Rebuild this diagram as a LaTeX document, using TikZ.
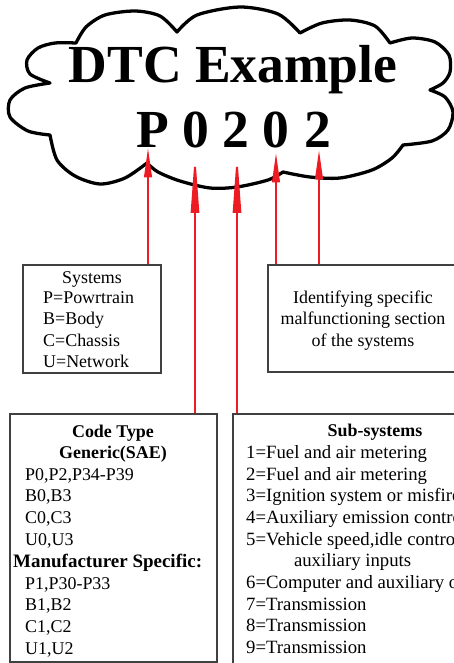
\documentclass[tikz,border=0pt]{standalone}
\usepackage{fontspec}
\setmainfont{Liberation Serif}
\usetikzlibrary{calc, fit, arrows.meta}

\definecolor{codered}{RGB}{237,28,36}
\definecolor{boxgray}{RGB}{64,64,64}

\tikzset{
    cloudline/.style={line width=2.8pt, line join=round},
    pointer/.style={draw=codered, line width=1.7pt, -{Triangle[length=25pt, width=6.5pt]}},
    longpointer/.style={draw=codered, line width=1.7pt, -{Triangle[length=52pt, width=7pt]}},
    infobox/.style={draw=boxgray, line width=0.9pt, inner sep=0pt},
    bigtext/.style={font=\fontsize{45.7}{50}\selectfont\bfseries, inner sep=0pt, anchor=base},
    bodytext/.style={font=\fontsize{15.3}{18.45}\selectfont, inner sep=0pt},
    widetext/.style={font=\fontsize{16}{18.45}\selectfont, inner sep=0pt},
    headtext/.style={font=\fontsize{15.3}{18.45}\selectfont\bfseries, inner sep=0pt},
}

\begin{document}
\begin{tikzpicture}[x=0.03cm, y=-0.03cm]

    % Page frame, anything past it is cut off
    \useasboundingbox (0,0) rectangle (454,663);
    \clip (0,0) rectangle (454,663);

    % Cloud round the code
    \draw[cloudline]
        plot[smooth] coordinates {(50,83) (30,74) (27,60) (38,48) (55,43) (76,43)}
        -- plot[smooth] coordinates {(76,43) (86,27) (105,15) (135,11) (160,16) (177,32)}
        -- plot[smooth] coordinates {(177,32) (197,15) (240,7) (278,14) (300,33)}
        -- plot[smooth] coordinates {(300,33) (322,23) (350,20) (375,26) (390,43)}
        -- plot[smooth] coordinates {(390,43) (412,38) (435,42) (449,55) (450,72) (443,83) (430,90)}
        -- plot[smooth] coordinates {(430,90) (445,97) (453,112) (448,130) (432,141) (403,145)}
        -- plot[smooth] coordinates {(403,145) (392,158) (372,170) (340,178) (310,177) (283,172)}
        -- plot[smooth] coordinates {(283,172) (268,180) (237,187) (210,188) (180,181) (158,172) (147,163)}
        -- plot[smooth] coordinates {(147,163) (125,178) (100,184) (75,176) (57,160) (50,135)}
        -- plot[smooth] coordinates {(50,135) (28,131) (10,117) (10,100) (25,88) (50,83)}
        -- cycle;

    % Title and the code, one node per character
    \node[bigtext] (title) at (233,82) {DTC Example};
    \node[bigtext] (c1) at (153,147) {P};
    \node[bigtext] (c2) at (196,147) {0};
    \node[bigtext] (c3) at (236,147) {2};
    \node[bigtext] (c4) at (276,147) {0};
    \node[bigtext] (c5) at (318,147) {2};

    % Boxes
    \node[infobox, fit={(23,265) (161,373)}] (sys) {};
    \node[infobox, fit={(268,265) (458,372)}] (ident) {};
    \node[infobox, fit={(10,414) (217,662)}] (ctype) {};
    \node[infobox, fit={(233,414) (517,700)}] (subsys) {};

    % Box texts
    \node[bodytext, anchor=base] (systitle) at (92,283) {Systems};
    \node[bodytext, anchor=north west, align=left] (syslist) at (43,291)
        {P=Powrtrain\\B=Body\\C=Chassis\\U=Network};

    \node[bodytext, anchor=north, align=center] (identtxt) at (363,290.5)
        {Identifying specific\\malfunctioning section\\of the systems};

    \node[headtext, anchor=north, align=center] (ctitle) at (113,424.5)
        {Code Type\\Generic(SAE)};
    \node[bodytext, anchor=north west, align=left] (cgeneric) at (25,468)
        {P0,P2,P34-P39\\B0,B3\\C0,C3\\U0,U3};
    \node[headtext, font=\fontsize{16.2}{18.45}\selectfont\bfseries, anchor=base west]
        (cmanuf) at (13,567) {Manufacturer Specific:};
    \node[bodytext, anchor=north west, align=left] (cspecific) at (25,577)
        {P1,P30-P33\\B1,B2\\C1,C2\\U1,U2};

    \node[headtext, anchor=base] (subtitle) at (375,436) {Sub-systems};
    \node[widetext, anchor=north west, align=left] (sublist) at (246,445.5)
        {1=Fuel and air metering\\
         2=Fuel and air metering\\
         3=Ignition system or misfire\\
         4=Auxiliary emission controls\\
         5=Vehicle speed,idle control and\\
         \hspace*{40.8pt}auxiliary inputs\\
         6=Computer and auxiliary outputs\\
         7=Transmission\\
         8=Transmission\\
         9=Transmission};

    % Arrow tips just under each character
    \coordinate (tip1) at ($(c1.base)+(-5,1)$);
    \coordinate (tip2) at ($(c2.base)+(-1,5)$);
    \coordinate (tip3) at ($(c3.base)+(1,5)$);
    \coordinate (tip4) at ($(c4.base)+(0,6)$);
    \coordinate (tip5) at ($(c5.base)+(1,3)$);

    % Red pointers from the boxes up to the code
    \draw[pointer] (tip1 |- sys.north) -- (tip1);
    \draw[longpointer] (tip2 |- ctype.north) -- (tip2);
    \draw[longpointer] (tip3 |- subsys.north) -- (tip3);
    \draw[pointer] (tip4 |- ident.north) -- (tip4);
    \draw[pointer] (tip5 |- ident.north) -- (tip5);

\end{tikzpicture}
\end{document}
